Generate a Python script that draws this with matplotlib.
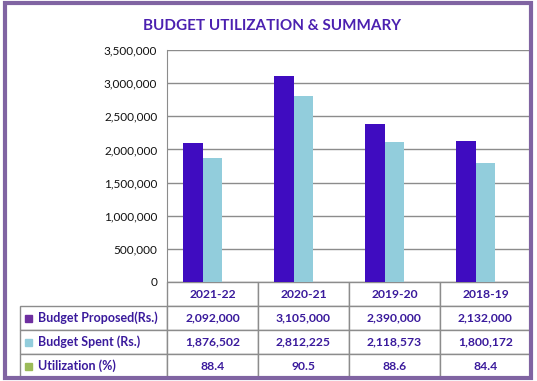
import numpy as np
import matplotlib.pyplot as plt
from matplotlib.patches import Rectangle
from matplotlib.ticker import FuncFormatter

plt.rcParams['font.family'] = ['Lato', 'DejaVu Sans']

years = ['2021-22', '2020-21', '2019-20', '2018-19']
proposed = [2092000, 3105000, 2390000, 2132000]
spent = [1876502, 2812225, 2118573, 1800172]
utilization = [88.4, 90.5, 88.6, 84.4]
row_names = ['Budget Proposed(Rs.)', 'Budget Spent (Rs.)', 'Utilization (%)']

bar_colors = ['#3F0CC0', '#92CDDC', '#9BBB59']
key_colors = ['#6E2FA0', '#92CDDC', '#9BBB59']
text_color = '#3A1A9C'
grid_color = '#8C8C8C'

W, H = 537, 381
fig = plt.figure(figsize=(W / 100, H / 100), dpi=100)

# plot area in pixels
x0, x1, ytop, ybot = 167, 531, 50, 282
ax = fig.add_axes([x0 / W, 1 - ybot / H, (x1 - x0) / W, (ybot - ytop) / H])

x = np.arange(len(years))
w = 0.218
series = [proposed, spent, utilization]
for i, vals in enumerate(series):
    ax.bar(x + (i - 1) * w, vals, width=w, color=bar_colors[i], zorder=3)

ax.set_xlim(-0.5, len(years) - 0.5)
ax.set_ylim(0, 3500000)
ax.set_yticks(np.arange(0, 3500001, 500000))
ax.yaxis.set_major_formatter(FuncFormatter(lambda v, p: f'{int(v):,}'))
ax.tick_params(axis='y', length=0, pad=7, labelsize=8.5, labelcolor='#111111')
ax.set_xticks([])
ax.yaxis.grid(True, color=grid_color, linewidth=1)
ax.set_axisbelow(True)
for s in ['top', 'right', 'bottom']:
    ax.spines[s].set_visible(False)
ax.spines['left'].set_color(grid_color)

# data table beneath the chart
def fmt(v):
    return f'{v:,}' if isinstance(v, int) else f'{v}'

cell_text = [['     ' + row_names[0]] + [fmt(v) for v in proposed],
             ['     ' + row_names[1]] + [fmt(v) for v in spent],
             ['     ' + row_names[2]] + [fmt(v) for v in utilization]]
col_labels = [''] + years

tx0, tybot = 20, 378
lab_w = x0 - tx0
col_w = (x1 - x0) / len(years)
widths = [lab_w] + [col_w] * len(years)
ax_w = x1 - x0
ax_h = ybot - ytop
tbl = ax.table(cellText=cell_text, colLabels=col_labels,
               colWidths=[v / ax_w for v in widths], cellLoc='center',
               bbox=[(tx0 - x0) / ax_w, -(tybot - ybot) / ax_h,
                     (x1 - tx0) / ax_w, (tybot - ybot) / ax_h])
tbl.auto_set_font_size(False)
for (r, c), cell in tbl.get_celld().items():
    cell.set_edgecolor(grid_color)
    cell.set_linewidth(1)
    cell.PAD = 0.02
    cell.get_text().set_fontsize(9 if c == 0 else 8.7)
    cell.get_text().set_fontweight('bold')
    cell.get_text().set_color(text_color)
    if r == 0 and c == 0:
        cell.visible_edges = ''
    if c == 0 and r > 0:
        cell.get_text().set_ha('left')
        cell._loc = 'left'

# coloured keys in the row label column
row_h = (tybot - ybot) / 4
for i, col in enumerate(key_colors):
    yc = ybot + row_h * (i + 1.5)
    fig.patches.append(Rectangle(((tx0 + 5) / W, 1 - (yc + 3.5) / H), 7 / W, 7 / H,
                                 transform=fig.transFigure, color=col))

fig.text(272 / W, 1 - 26 / H, 'BUDGET UTILIZATION & SUMMARY', ha='center',
         va='center', fontsize=11, fontweight='bold', color='#4B20B0')

# outer frame
fig.patches.append(Rectangle((5 / W, 3 / H), 526 / W, 375 / H, transform=fig.transFigure,
                             fill=False, edgecolor='#8064A2', linewidth=3))

fig.savefig('out.png', dpi=100)
